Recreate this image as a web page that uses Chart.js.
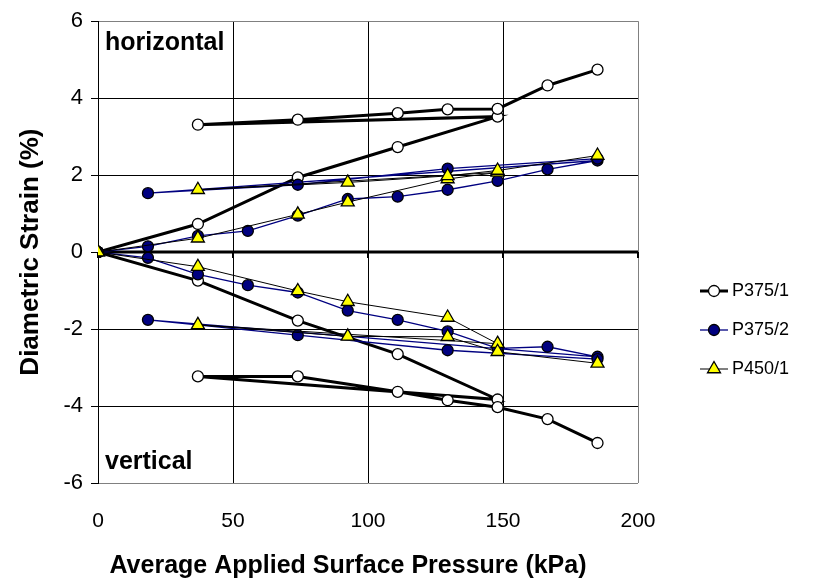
<!DOCTYPE html>
<html>
<head>
<meta charset="utf-8">
<script src="https://cdn.jsdelivr.net/npm/chart.js@4.4.1/dist/chart.umd.min.js"></script>
<style>
    html, body { margin: 0; padding: 0; background: #fff; }
    #wrap { width: 835px; height: 586px; }
</style>
</head>
<body>
<div id="wrap"><canvas id="chart" width="835" height="586"></canvas></div>
<script>
// Applied pressure (kPa) in test order: load, unload, reload.
const p375_1Pressure = [0, 37, 74, 111, 148, 37, 74, 111, 129.5, 148, 166.5, 185];
const p375_1Horizontal = [0, 0.73, 1.94, 2.73, 3.52, 3.31, 3.44, 3.61, 3.71, 3.72, 4.33, 4.74];
const p375_1Vertical = [0, -0.74, -1.78, -2.65, -3.83, -3.23, -3.23, -3.63, -3.85, -4.03, -4.34, -4.96];

const p375_2Pressure = [0, 18.5, 37, 55.5, 74, 92.5, 111, 129.5, 148, 166.5, 185, 18.5, 74, 129.5, 185];
const p375_2Horizontal = [0, 0.15, 0.42, 0.55, 0.95, 1.38, 1.44, 1.62, 1.85, 2.15, 2.38, 1.53, 1.75, 2.17, 2.43];
const p375_2Vertical = [0, -0.15, -0.58, -0.86, -1.05, -1.52, -1.76, -2.06, -2.50, -2.46, -2.72, -1.76, -2.16, -2.55, -2.78];

const p450_1Pressure = [0, 37, 74, 92.5, 129.5, 148, 37, 92.5, 129.5, 148, 185];
const p450_1Horizontal = [0, 0.36, 0.98, 1.30, 1.90, 2.07, 1.62, 1.81, 1.98, 2.12, 2.51];
const p450_1Vertical = [0, -0.38, -1.01, -1.29, -1.70, -2.38, -1.89, -2.19, -2.20, -2.59, -2.89];

const xTicks = [0, 50, 100, 150, 200];
const yTicks = [-6, -4, -2, 0, 2, 4, 6];

const X_TITLE = 'Average Applied Surface Pressure (kPa)';
const Y_TITLE = 'Diametric Strain (%)';

const FONT = '"Liberation Sans", Arial, sans-serif';

// Marker / line look for each specimen.
const styles = {
    'P375/1': {
        borderColor: '#000000', borderWidth: 3, pointStyle: 'circle', pointRadius: 5.5,
        pointBackgroundColor: '#ffffff', pointBorderColor: '#000000', pointBorderWidth: 1.3, order: 3,
    },
    'P375/2': {
        borderColor: '#000080', borderWidth: 1.3, pointStyle: 'circle', pointRadius: 5.5,
        pointBackgroundColor: '#000080', pointBorderColor: '#000000', pointBorderWidth: 1.3, order: 2,
    },
    'P450/1': {
        borderColor: '#000000', borderWidth: 1, pointStyle: 'triangle', pointRadius: 7.5,
        pointBackgroundColor: '#ffff00', pointBorderColor: '#000000', pointBorderWidth: 1.3, order: 1,
    },
};

function series(label, pressure, strain, legendEntry) {
    return Object.assign({
        label: label,
        data: pressure.map((p, i) => ({ x: p, y: strain[i] })),
        showLine: true,
        fill: false,
        tension: 0,
        pointHoverRadius: 6,
        legendEntry: legendEntry,
    }, styles[label]);
}

function drawMarker(ctx, style, x, y, r, fill, stroke, lw) {
    ctx.beginPath();
    if (style === 'triangle') {
        let rad = 0;
        ctx.moveTo(x + Math.sin(rad) * r, y - Math.cos(rad) * r);
        rad += 2 * Math.PI / 3;
        ctx.lineTo(x + Math.sin(rad) * r, y - Math.cos(rad) * r);
        rad += 2 * Math.PI / 3;
        ctx.lineTo(x + Math.sin(rad) * r, y - Math.cos(rad) * r);
        ctx.closePath();
    } else {
        ctx.arc(x, y, r, 0, Math.PI * 2);
    }
    ctx.fillStyle = fill;
    ctx.fill();
    ctx.lineWidth = lw;
    ctx.strokeStyle = stroke;
    ctx.stroke();
}

// Excel-like x axis crossing at zero: thick line with tick marks below it.
const zeroAxis = {
    id: 'zeroAxis',
    beforeDatasetsDraw(chart) {
        const { ctx, chartArea, scales } = chart;
        const y0 = Math.round(scales.y.getPixelForValue(0));
        ctx.save();
        ctx.strokeStyle = '#000';
        ctx.lineWidth = 3;
        ctx.beginPath();
        ctx.moveTo(chartArea.left, y0);
        ctx.lineTo(chartArea.right, y0);
        ctx.stroke();
        ctx.lineWidth = 2;
        xTicks.forEach((v) => {
            const px = Math.round(scales.x.getPixelForValue(v));
            ctx.beginPath();
            ctx.moveTo(px, y0);
            ctx.lineTo(px, y0 + 6);
            ctx.stroke();
        });
        ctx.restore();
    },
};

// Notes inside the plot, the x title (sits left of centre in the original) and the legend.
const extras = {
    id: 'extras',
    afterDraw(chart) {
        const { ctx, chartArea } = chart;
        ctx.save();
        ctx.fillStyle = '#000';
        ctx.font = 'bold 25px ' + FONT;
        ctx.textBaseline = 'middle';
        ctx.textAlign = 'left';
        ctx.fillText('horizontal', chartArea.left + 7, chartArea.top + 22);
        ctx.fillText('vertical', chartArea.left + 7, chartArea.bottom - 21);

        ctx.textAlign = 'center';
        ctx.fillText(X_TITLE, chartArea.left + 250, 566);

        ctx.textAlign = 'left';
        const entries = chart.data.datasets.filter(d => d.legendEntry);
        entries.forEach((ds, i) => {
            const x = 700;
            const y = 291 + i * 39;
            ctx.strokeStyle = ds.borderColor;
            ctx.lineWidth = ds.borderWidth;
            ctx.beginPath();
            ctx.moveTo(x, y);
            ctx.lineTo(x + 28, y);
            ctx.stroke();
            drawMarker(ctx, ds.pointStyle, x + 14, y, ds.pointRadius, ds.pointBackgroundColor, ds.pointBorderColor, ds.pointBorderWidth);
            ctx.fillStyle = '#000';
            ctx.font = '18px ' + FONT;
            ctx.fillText(ds.label, x + 32, y);
        });
        ctx.restore();
    },
};

const chart = new Chart(document.getElementById('chart'), {
    type: 'line',
    data: {
        datasets: [
            series('P375/1', p375_1Pressure, p375_1Horizontal, true),
            series('P375/1', p375_1Pressure, p375_1Vertical, false),
            series('P375/2', p375_2Pressure, p375_2Horizontal, true),
            series('P375/2', p375_2Pressure, p375_2Vertical, false),
            series('P450/1', p450_1Pressure, p450_1Horizontal, true),
            series('P450/1', p450_1Pressure, p450_1Vertical, false),
        ],
    },
    options: {
        responsive: false,
        animation: false,
        layout: { padding: { left: 0, top: 15, right: 197, bottom: 0 } },
        plugins: {
            legend: { display: false },
            tooltip: { enabled: false },
        },
        scales: {
            x: {
                type: 'linear',
                min: 0,
                max: 200,
                afterBuildTicks: (scale) => { scale.ticks = xTicks.map(v => ({ value: v })); },
                afterFit: (scale) => { scale.height = 103; },
                border: { display: false },
                grid: {
                    color: ctx => (ctx.tick && ctx.tick.value === 200 ? '#808080' : '#000'),
                    lineWidth: 1,
                    drawTicks: false,
                },
                ticks: {
                    color: '#000',
                    font: { family: FONT, size: 21 },
                    padding: 26,
                },
                title: { display: false },
            },
            y: {
                type: 'linear',
                min: -6,
                max: 6,
                afterBuildTicks: (scale) => { scale.ticks = yTicks.map(v => ({ value: v })); },
                afterFit: (scale) => { scale.width = 98; },
                border: { display: true, color: '#000', width: 1 },
                grid: {
                    color: ctx => (ctx.tick && Math.abs(ctx.tick.value) === 6 ? '#808080' : '#000'),
                    lineWidth: 1,
                    tickLength: 7,
                    tickColor: '#000',
                },
                ticks: {
                    color: '#000',
                    font: { family: FONT, size: 22 },
                    padding: 8,
                },
                title: {
                    display: true,
                    text: Y_TITLE,
                    color: '#000',
                    font: { family: FONT, size: 26, weight: 'bold' },
                    padding: { top: 15, bottom: 0 },
                },
            },
        },
    },
    plugins: [zeroAxis, extras],
});
</script>
</body>
</html>
